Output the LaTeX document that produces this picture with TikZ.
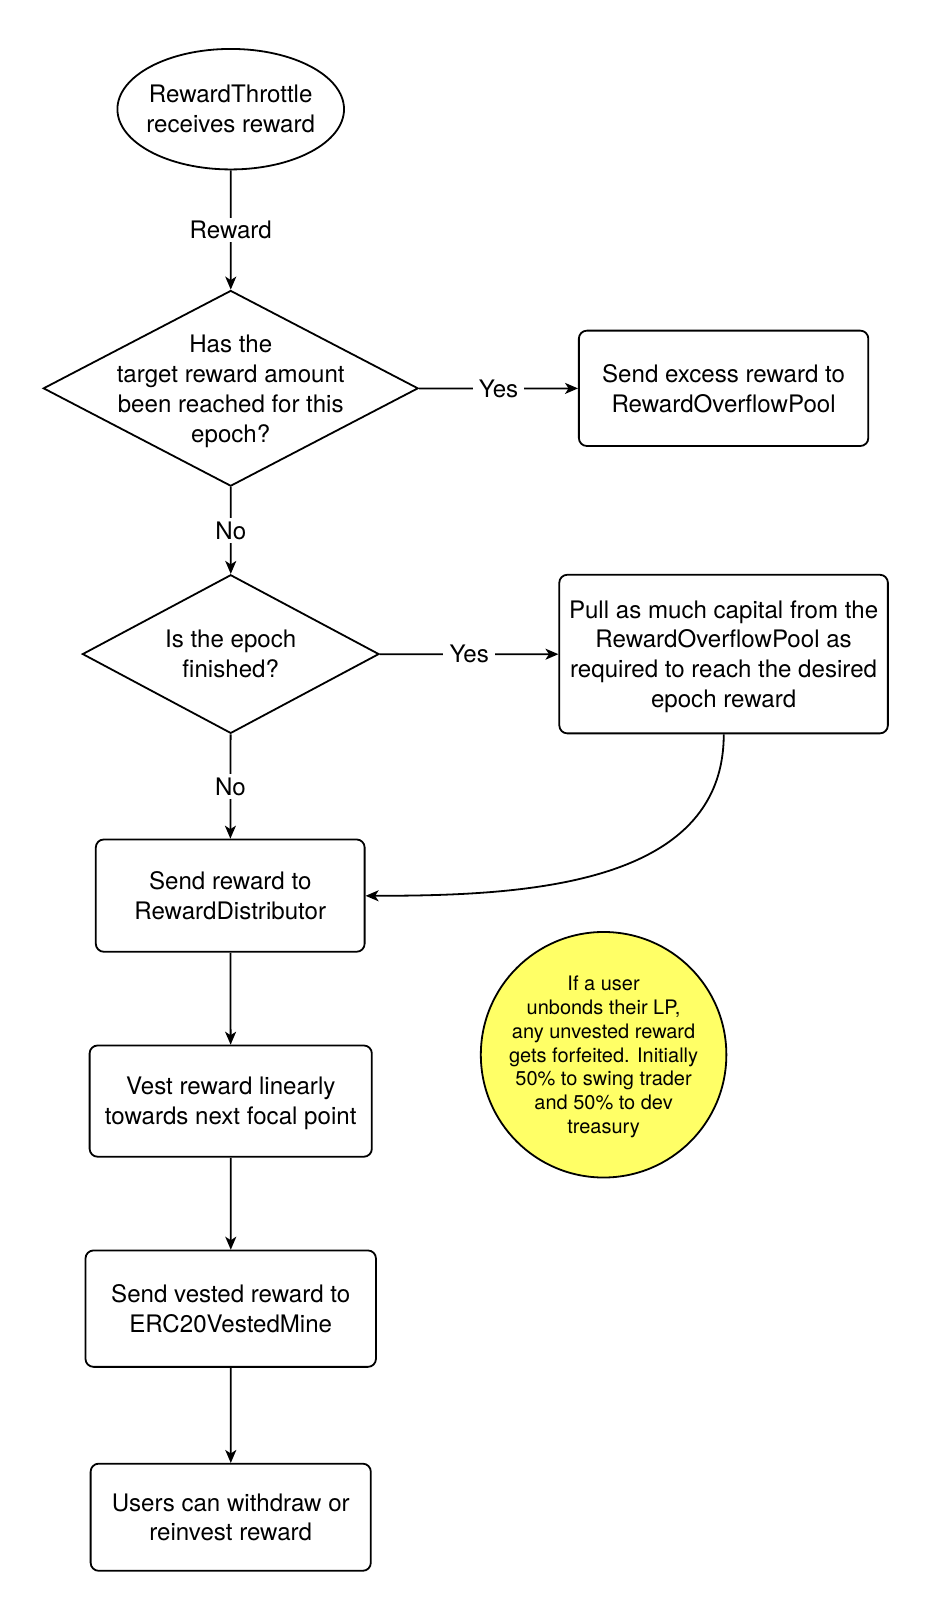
\documentclass[tikz,border=0pt]{standalone}
\usepackage{fontspec}
\setmainfont{TeX Gyre Heros}
\usetikzlibrary{shapes.geometric,arrows.meta}
\definecolor{notefill}{RGB}{255,255,102}

\begin{document}
\begin{tikzpicture}[x=1pt,y=-1pt,scale=1.03,transform shape,line width=1.8pt,
    procbox/.style={rectangle,rounded corners=8pt,draw,align=center,inner sep=0pt,text depth=-4.5pt},
    decision/.style={diamond,draw,inner sep=0pt},
    flowlabel/.style={fill=white,inner xsep=6pt,inner ysep=3pt}]

      \useasboundingbox (0,0) rectangle (904.85,1568.9);

      \begin{scope}[every node/.style={font=\fontsize{23.4}{29}\selectfont,align=center}]
        \node[ellipse,draw,minimum width=220pt,minimum height=117pt,inner xsep=-10pt,inner ysep=0pt] (start) at (224,106) {RewardThrottle\\receives reward};
        \node[decision,minimum width=364pt,minimum height=190pt] (target) at (224,377) {};
        \node[text depth=-4.5pt] (targettext) at (224,377.5) {Has the\\target reward amount\\been reached for this\\epoch?};
        \node[procbox,minimum width=281pt,minimum height=112pt] (overflow) at (702.5,377) {Send excess reward to\\RewardOverflowPool};
        \node[decision,minimum width=288pt,minimum height=154pt] (epoch) at (224,635) {};
        \node[text depth=-4.5pt] (epochtext) at (224,634.5) {Is the epoch\\finished?};
        \node[procbox,minimum width=319pt,minimum height=154pt] (pull) at (702.5,635) {Pull as much capital from the\\RewardOverflowPool as\\required to reach the desired\\epoch reward};
        \node[procbox,minimum width=261pt,minimum height=109pt] (distributor) at (223.5,869.5) {Send reward to\\RewardDistributor};
        \node[procbox,minimum width=274pt,minimum height=108pt] (vest) at (224,1069) {Vest reward linearly\\towards next focal point};
        \node[procbox,minimum width=282pt,minimum height=113pt] (mine) at (224,1270.5) {Send vested reward to\\ERC20VestedMine};
        \node[procbox,minimum width=272pt,minimum height=104pt] (withdraw) at (224,1473) {Users can withdraw or\\reinvest reward};
        \node[circle,draw,fill=notefill,minimum size=222pt,inner sep=0pt,text depth=-2pt,
              font=\fontsize{19.4}{23}\selectfont] (note) at (586,1024) {If a user\\unbonds their LP,\\any unvested reward\\gets forfeited. Initially\\50\% to swing trader\\and 50\% to dev\\treasury};
      \end{scope}

      \begin{scope}[every edge/.style={draw,-{Stealth[length=13pt,width=11pt,inset=3.5pt]}},
                    every node/.style={flowlabel,font=\fontsize{23.4}{29}\selectfont}]
        \path (start)  edge node {Reward} (target);
        \path (target) edge node {Yes} (overflow);
        \path (target) edge node {No} (epoch);
        \path (epoch)  edge node {Yes} (pull);
        \path (epoch)  edge node {No} (distributor);
        \path (pull)   edge[out=-90,in=0] (distributor);
        \path (distributor) edge (vest);
        \path (vest)   edge (mine);
        \path (mine)   edge (withdraw);
      \end{scope}

    \end{tikzpicture}
\end{document}
